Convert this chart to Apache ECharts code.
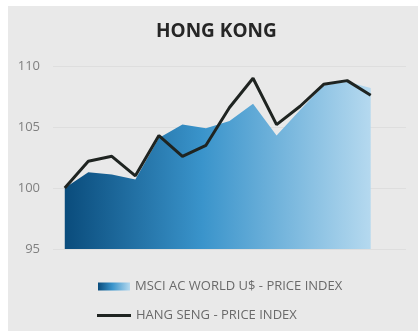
<!DOCTYPE html>
<html>
<head>
<meta charset="utf-8">
<script src="https://cdn.jsdelivr.net/npm/echarts@6/dist/echarts.min.js"></script>
<style>
html,body{margin:0;padding:0;background:#fff;}
#c{width:418px;height:331px;}
</style>
</head>
<body>
<div id="c"></div>
<script>
var titleText = 'HONG KONG';
var categories = ['1','2','3','4','5','6','7','8','9','10','11','12','13','14',''];
var msciName = 'MSCI AC WORLD U$ - PRICE INDEX';
var hangSengName = 'HANG SENG - PRICE INDEX';
var msciValues = [100, 101.3, 101.1, 100.7, 104.1, 105.2, 104.9, 105.5, 106.9, 104.3, 106.4, 108.4, 108.7, 108.2];
var hangSengValues = [100, 102.2, 102.6, 101.0, 104.3, 102.6, 103.5, 106.6, 109.0, 105.2, 106.7, 108.5, 108.8, 107.6];
var yTicks = [95, 100, 105, 110];

var FONT = 'Open Sans';
function areaGrad(){
  return new echarts.graphic.LinearGradient(0,0,1,0,[
    {offset:0,color:'#0a4c7c'},
    {offset:0.45,color:'#3a94cb'},
    {offset:1,color:'#b5d9ef'}
  ]);
}
var chart = echarts.init(document.getElementById('c'), null, {renderer:'canvas'});
chart.setOption({
  animation:false,
  backgroundColor:'#ffffff',
  graphic:[{type:'rect',left:8,top:6,shape:{width:410,height:325},style:{fill:'#e9e9e9'},z:-10,silent:true}],
  title:{text:titleText,left:156,top:22,padding:0,textStyle:{fontFamily:FONT,fontSize:19,fontWeight:'bold',color:'#262626'}},
  grid:{left:53,right:12,top:66,bottom:82,containLabel:false},
  legend:[
    {data:[{name:msciName,icon:'rect',itemStyle:{color:areaGrad()}}],left:98,top:280,orient:'vertical',padding:0,itemWidth:32,itemHeight:8,
     textStyle:{fontFamily:FONT,fontSize:13,color:'#6a6a6a'}},
    {data:[{name:hangSengName,icon:'rect',itemStyle:{color:'#1f2421'}}],left:97,top:309,orient:'vertical',padding:0,itemWidth:34,itemHeight:3,
     textStyle:{fontFamily:FONT,fontSize:13,color:'#6a6a6a'}}
  ],
  xAxis:{type:'category',data:categories,boundaryGap:true,axisLine:{show:false},axisTick:{show:false},axisLabel:{show:false},splitLine:{show:false}},
  yAxis:{type:'value',min:yTicks[0],max:yTicks[yTicks.length-1],interval:5,
    axisLine:{show:false},axisTick:{show:false},
    axisLabel:{margin:13,color:'#808080',fontFamily:FONT,fontSize:13},
    splitLine:{show:true,lineStyle:{color:'#dedede',width:1}}},
  series:[
    {name:msciName,type:'line',data:msciValues,symbol:'none',lineStyle:{width:0},
     itemStyle:{color:'#3a94cb'},
     areaStyle:{origin:'start',color:areaGrad(),opacity:1},z:2},
    {name:hangSengName,type:'line',data:hangSengValues,symbol:'none',
     lineStyle:{width:3,color:'#1f2421'},itemStyle:{color:'#1f2421'},z:3}
  ]
});
</script>
</body>
</html>
